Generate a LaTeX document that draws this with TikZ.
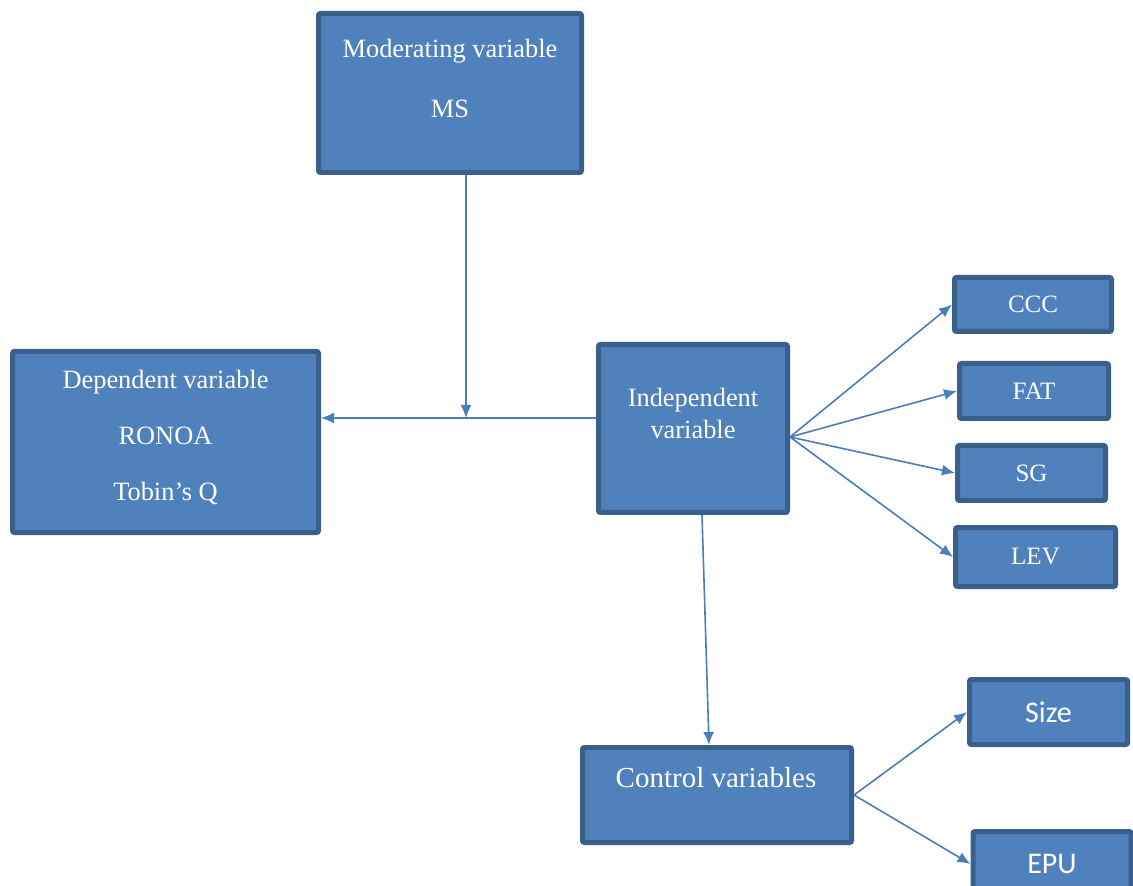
\documentclass[tikz,border=0pt]{standalone}
\usepackage{fontspec}
\setmainfont{Liberation Serif}
\newfontfamily\timesf{Liberation Serif}
\newfontfamily\calib{Carlito}
\usetikzlibrary{arrows.meta,positioning}
\definecolor{boxfill}{HTML}{4F81BD}
\definecolor{boxline}{HTML}{3A5F8B}
\definecolor{arr}{HTML}{4A7EBB}
\tikzset{vbox/.style 2 args={rectangle, draw=boxline, fill=boxfill, line width=2.5pt,
            rounded corners=1pt, inner sep=0pt,
            minimum width=#1*0.5pt, minimum height=#2*0.5pt},
         vtxt/.style={text=white, align=center, font=\timesf\fontsize{13.2}{16}\selectfont},
         stxt/.style={text=white, font=\timesf\fontsize{12.5}{15}\selectfont},
         link/.style={-{Latex[length=6.5pt,width=5.5pt]}, draw=arr, line width=0.8pt}}

\begin{document}
\begin{tikzpicture}[x=0.5pt, y=-0.5pt]
\useasboundingbox (0,0) rectangle (1133,886);
\clip (0,0) rectangle (1133,886);
% main boxes
\node[vbox={263}{159}] (ms) at (450,93) {};
\node[vtxt] (mstxt) at (450,78) {Moderating variable\\[14pt]MS};
\node[vbox={306}{181}] (dep) at (165.5,442) {};
\node[vtxt] (deptxt) at (165.5,437) {Dependent variable\\[12pt]RONOA\\[12pt]Tobin’s Q};
\node[vbox={189}{168}] (indep) at (693,428.5) {};
\node[vtxt] (indeptxt) at (693,413) {Independent\\variable};
\node[vbox={269}{95}] (ctrl) at (717,795) {};
\node[vtxt, font=\timesf\fontsize{14.5}{17}\selectfont] (ctrltxt) at (716,778) {Control variables};
% independent variables
\node[vbox={157}{54}, stxt] (ccc) at (1033,304.5) {CCC};
\node[vbox={149}{55}, stxt] (fat) at (1034,391) {FAT};
\node[vbox={148}{55}, stxt] (sg) at (1031.5,473) {SG};
\node[vbox={160}{59}, stxt] (lev) at (1035.5,557) {LEV};
% controls
\node[vbox={158}{65}, stxt, font=\calib\fontsize{15}{18}\selectfont] (size) at (1048.5,712) {Size};
\node[vbox={158}{65}, stxt, font=\calib\fontsize{15}{18}\selectfont] (epu) at (1052,864) {EPU};

\coordinate (j) at (466,418);
\coordinate (fan) at (790,437);
\draw[link] (indep.west |- j) -- (dep.east |- j);
\draw[link] (ms.south -| j) -- (j);
\foreach \t in {ccc,fat,sg,lev}
  \draw[link] (fan) -- (\t.west);
\draw[link] ([xshift=4.5pt]indep.south) -- ([xshift=-4pt]ctrl.north);
\draw[link] (ctrl.east) -- (size.west);
\draw[link] (ctrl.east) -- (epu.west);
\end{tikzpicture}
\end{document}
